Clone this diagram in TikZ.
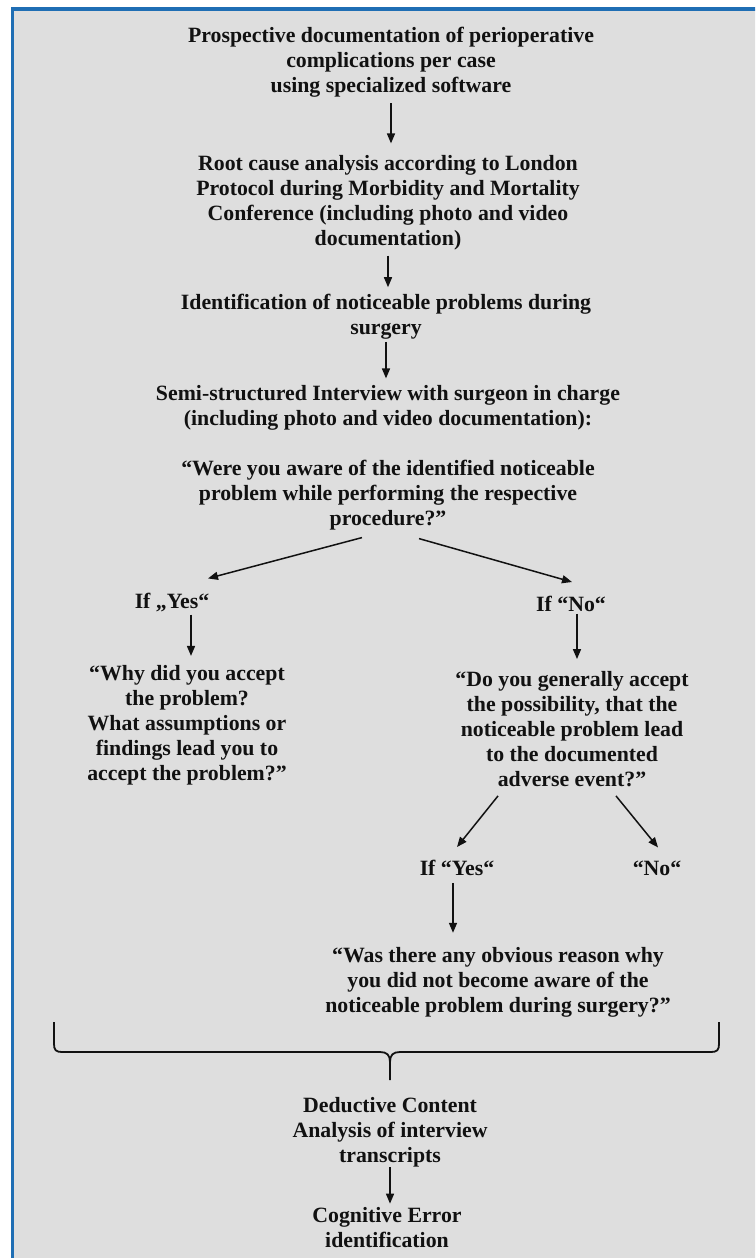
\documentclass[tikz,border=0pt]{standalone}
\usepackage{fontspec}
\setmainfont{Liberation Serif}
\usepackage{xcolor}
\usetikzlibrary{positioning,arrows.meta}
\definecolor{panelgray}{HTML}{DEDEDE}
\definecolor{frameblue}{HTML}{1F6EB4}
\definecolor{inkblack}{HTML}{111111}

\begin{document}
\begin{tikzpicture}[x=1pt, y=-1pt,
            arrowstyle/.style={-{Triangle[length=10pt, width=8pt]}, line width=1.5pt, draw=inkblack}]
            % A text style
            \tikzstyle{textnode} = [align=center, inner sep=2pt, text=inkblack, font=\fontsize{21.8}{25}\selectfont\bfseries]
            % Frame
            \useasboundingbox (0,0) rectangle (755,1258);
            \clip (0,0) rectangle (755,1258);
            \draw [line width=3.5pt, draw=frameblue, fill=panelgray] (12.5,9) rectangle (800,1300);

            % Define the nodes
            \node (doc) [textnode] at (391,62) {Prospective documentation of perioperative\\complications per case\\using specialized software};
            \node (rca) [textnode] at (388,203) {Root cause analysis according to London\\Protocol during Morbidity and Mortality\\Conference (including photo and video\\documentation)};
            \node (ident) [textnode] at (386,317) {Identification of noticeable problems during\\surgery};
            \node (interview) [textnode] at (388,458) {Semi-structured Interview with surgeon in charge\\(including photo and video documentation):\\[25pt]“Were you aware of the identified noticeable\\problem while performing the respective\\procedure?”};
            \node (ifyes) [textnode] at (172,603) {If „Yes“};
            \node (ifno) [textnode] at (571,604) {If “No“};
            \node (why) [textnode] at (187,725) {“Why did you accept\\the problem?\\What assumptions or\\findings lead you to\\accept the problem?”};
            \node (possible) [textnode] at (572,729) {“Do you generally accept\\the possibility, that the\\noticeable problem lead\\to the documented\\adverse event?”};
            \node (ifyestwo) [textnode] at (457,868) {If “Yes“};
            \node (notwo) [textnode] at (657,868) {“No“};
            \node (reason) [textnode] at (498,982) {“Was there any obvious reason why\\you did not become aware of the\\noticeable problem during surgery?”};
            \node (content) [textnode] at (390,1132) {Deductive Content\\Analysis of interview\\transcripts};
            \node (cognitive) [textnode] at (387,1228) {Cognitive Error\\identification};

            % Draw the arrows
            \draw [arrowstyle, shorten <=4pt, shorten >=10pt] (doc.south) -- (doc.south |- rca.north);
            \draw [arrowstyle, shorten <=3pt, shorten >=5pt] (rca.south) -- (rca.south |- ident.north);
            \draw [arrowstyle, shorten >=5pt] (ident.south) -- (ident.south |- interview.north);
            \draw [arrowstyle] ([xshift=-26pt, yshift=-5pt]interview.south) -- ([xshift=36pt, yshift=13pt]ifyes.north);
            \draw [arrowstyle] ([xshift=31pt, yshift=-6pt]interview.south) -- ([xshift=1pt, yshift=12pt]ifno.north);
            \draw [arrowstyle, shorten >=7pt] ([xshift=19pt]ifyes.south) -- ([xshift=19pt]ifyes.south |- why.north);
            \draw [arrowstyle, shorten >=10pt] ([xshift=6pt]ifno.south) -- ([xshift=6pt]ifno.south |- possible.north);
            \draw [arrowstyle] ([xshift=-74pt, yshift=-7pt]possible.south) -- ([yshift=11pt]ifyestwo.north);
            \draw [arrowstyle] ([xshift=44pt, yshift=-7pt]possible.south) -- ([xshift=1pt, yshift=11pt]notwo.north);
            \draw [arrowstyle, shorten <=5pt, shorten >=12pt] ([xshift=-4pt]ifyestwo.south) -- ([xshift=-4pt]ifyestwo.south |- reason.north);
            \draw [arrowstyle, shorten <=-2pt, shorten >=2pt] (content.south) -- (content.south |- cognitive.north);

            % The brace
            \coordinate (braceleft) at (54,1022);
            \coordinate (braceright) at (719,1022);
            \coordinate (bracetip) at (390,1080);
            \draw [line width=1.8pt, draw=inkblack] (braceleft) -- (54,1044) .. controls (54,1050) and (56,1052) .. (62,1052) -- (380,1052) .. controls (387,1052) and (390,1055) .. (390,1062) -- (bracetip);
            \draw [line width=1.8pt, draw=inkblack] (braceright) -- (719,1044) .. controls (719,1050) and (717,1052) .. (711,1052) -- (400,1052) .. controls (393,1052) and (390,1055) .. (390,1062);
\end{tikzpicture}
\end{document}
